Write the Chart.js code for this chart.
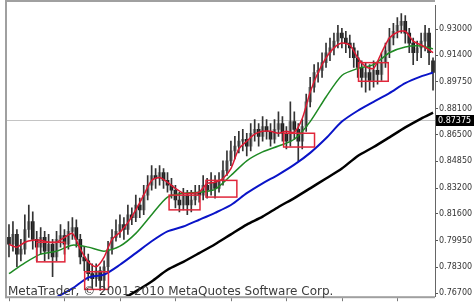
<!DOCTYPE html>
<html>
<head>
<meta charset="utf-8">
<script src="https://cdn.jsdelivr.net/npm/chart.js@4.4.1/dist/chart.umd.min.js"></script>
<style>
  html, body { margin: 0; padding: 0; background: #fff; }
</style>
</head>
<body>
<canvas id="myChart" width="474" height="302"></canvas>
<script>
// price bars (oldest first)
const barOpen = [
  0.8015, 0.7973, 0.8034, 0.7912, 0.7943, 0.8064, 0.8112, 0.8003, 0.7955, 0.8015,
  0.7930, 0.7973, 0.7894, 0.8003, 0.8027, 0.7973, 0.8052, 0.8076, 0.8003, 0.7894,
  0.7870, 0.7791, 0.7761, 0.7809, 0.7749, 0.7834, 0.7943, 0.8015, 0.8052, 0.8094,
  0.8064, 0.8155, 0.8137, 0.8215, 0.8185, 0.8276, 0.8337, 0.8397, 0.8379, 0.8415,
  0.8367, 0.8337, 0.8306, 0.8246, 0.8215, 0.8276, 0.8215, 0.8246, 0.8294, 0.8276,
  0.8337, 0.8306, 0.8355, 0.8318, 0.8367, 0.8427, 0.8488, 0.8549, 0.8579, 0.8609,
  0.8621, 0.8579, 0.8658, 0.8682, 0.8639, 0.8700, 0.8670, 0.8621, 0.8682, 0.8718,
  0.8658, 0.8609, 0.8730, 0.8682, 0.8609, 0.8700, 0.8852, 0.8942, 0.9033, 0.9046,
  0.9094, 0.9155, 0.9185, 0.9227, 0.9276, 0.9246, 0.9215, 0.9185, 0.9124, 0.9064,
  0.9003, 0.9033, 0.8985, 0.9046, 0.9021, 0.9094, 0.9167, 0.9246, 0.9288, 0.9324,
  0.9349, 0.9276, 0.9215, 0.9155, 0.9185, 0.9227, 0.9276, 0.9106,
];
const barClose = [
  0.7973, 0.8034, 0.7912, 0.7943, 0.8064, 0.8112, 0.8003, 0.7955, 0.8015, 0.7930,
  0.7973, 0.7894, 0.8003, 0.8027, 0.7973, 0.8052, 0.8076, 0.8003, 0.7894, 0.7870,
  0.7791, 0.7761, 0.7809, 0.7749, 0.7834, 0.7943, 0.8015, 0.8052, 0.8094, 0.8064,
  0.8155, 0.8137, 0.8215, 0.8185, 0.8276, 0.8337, 0.8397, 0.8379, 0.8415, 0.8367,
  0.8337, 0.8306, 0.8246, 0.8215, 0.8276, 0.8215, 0.8246, 0.8294, 0.8276, 0.8337,
  0.8306, 0.8355, 0.8318, 0.8367, 0.8427, 0.8488, 0.8549, 0.8579, 0.8609, 0.8621,
  0.8579, 0.8658, 0.8682, 0.8639, 0.8700, 0.8670, 0.8621, 0.8682, 0.8718, 0.8658,
  0.8609, 0.8730, 0.8682, 0.8609, 0.8700, 0.8852, 0.8942, 0.9033, 0.9046, 0.9094,
  0.9155, 0.9185, 0.9227, 0.9276, 0.9246, 0.9215, 0.9185, 0.9124, 0.9064, 0.9003,
  0.9033, 0.8985, 0.9046, 0.9021, 0.9094, 0.9167, 0.9246, 0.9288, 0.9324, 0.9349,
  0.9276, 0.9215, 0.9155, 0.9185, 0.9227, 0.9276, 0.9155, 0.9033,
];
const barHigh = [
  0.8094, 0.8112, 0.8064, 0.8003, 0.8155, 0.8215, 0.8173, 0.8052, 0.8076, 0.8052,
  0.8034, 0.8003, 0.8052, 0.8094, 0.8064, 0.8112, 0.8137, 0.8124, 0.8034, 0.7955,
  0.7912, 0.7852, 0.7852, 0.7834, 0.7870, 0.7991, 0.8064, 0.8124, 0.8155, 0.8137,
  0.8215, 0.8197, 0.8276, 0.8258, 0.8337, 0.8397, 0.8458, 0.8440, 0.8458, 0.8440,
  0.8415, 0.8379, 0.8337, 0.8294, 0.8318, 0.8306, 0.8306, 0.8337, 0.8337, 0.8397,
  0.8379, 0.8415, 0.8397, 0.8415, 0.8488, 0.8549, 0.8609, 0.8639, 0.8670, 0.8682,
  0.8658, 0.8718, 0.8742, 0.8718, 0.8761, 0.8742, 0.8718, 0.8742, 0.8791, 0.8761,
  0.8700, 0.8852, 0.8791, 0.8718, 0.8742, 0.8900, 0.9003, 0.9082, 0.9094, 0.9155,
  0.9215, 0.9246, 0.9276, 0.9324, 0.9306, 0.9288, 0.9264, 0.9215, 0.9167, 0.9106,
  0.9094, 0.9082, 0.9106, 0.9094, 0.9155, 0.9215, 0.9306, 0.9336, 0.9373, 0.9397,
  0.9385, 0.9306, 0.9246, 0.9227, 0.9276, 0.9324, 0.9306, 0.9124,
];
const barLow = [
  0.7894, 0.7930, 0.7834, 0.7870, 0.7912, 0.8015, 0.7943, 0.7870, 0.7912, 0.7870,
  0.7882, 0.7773, 0.7870, 0.7955, 0.7912, 0.7943, 0.8003, 0.7955, 0.7852, 0.7809,
  0.7749, 0.7700, 0.7712, 0.7688, 0.7700, 0.7809, 0.7912, 0.7991, 0.8015, 0.8003,
  0.8034, 0.8094, 0.8112, 0.8137, 0.8155, 0.8246, 0.8306, 0.8318, 0.8337, 0.8318,
  0.8294, 0.8258, 0.8197, 0.8173, 0.8185, 0.8155, 0.8173, 0.8215, 0.8233, 0.8246,
  0.8258, 0.8276, 0.8258, 0.8294, 0.8337, 0.8397, 0.8458, 0.8500, 0.8537, 0.8549,
  0.8518, 0.8549, 0.8609, 0.8579, 0.8609, 0.8621, 0.8579, 0.8597, 0.8639, 0.8609,
  0.8561, 0.8579, 0.8621, 0.8488, 0.8561, 0.8670, 0.8821, 0.8912, 0.8973, 0.9003,
  0.9064, 0.9106, 0.9142, 0.9185, 0.9185, 0.9155, 0.9124, 0.9064, 0.9003, 0.8942,
  0.8912, 0.8924, 0.8942, 0.8961, 0.8985, 0.9064, 0.9124, 0.9203, 0.9246, 0.9276,
  0.9215, 0.9155, 0.9082, 0.9106, 0.9124, 0.9167, 0.9082, 0.8924,
];

// moving averages, read at the listed bar positions
const fastIdx = [
  0, 2, 4, 6, 8, 10, 12, 14, 16, 18, 20, 22, 24, 26, 28, 30, 32, 34, 36, 38,
  40, 42, 44, 46, 48, 50, 52, 54, 56, 58, 60, 62, 64, 66, 68, 70, 72, 74, 76, 78,
  80, 82, 84, 86, 88, 90, 92, 94, 96, 98, 100, 102, 104, 106, 107,
];
const fastMa = [
  0.7973, 0.7955, 0.7985, 0.7997, 0.7997, 0.7985, 0.7985, 0.8015, 0.8040, 0.7943,
  0.7864, 0.7834, 0.7894, 0.8003, 0.8046, 0.8106, 0.8185, 0.8276, 0.8367, 0.8385,
  0.8355, 0.8318, 0.8288, 0.8288, 0.8294, 0.8349, 0.8355, 0.8379, 0.8440, 0.8561,
  0.8609, 0.8652, 0.8670, 0.8670, 0.8658, 0.8670, 0.8664, 0.8749, 0.8912, 0.9033,
  0.9124, 0.9185, 0.9215, 0.9203, 0.9124, 0.9070, 0.9058, 0.9155, 0.9246, 0.9282,
  0.9288, 0.9227, 0.9203, 0.9173, 0.9155,
];
const slowIdx = [
  0, 4, 8, 12, 16, 20, 24, 28, 32, 36, 40, 44, 48, 52, 56, 60, 64, 68, 72, 76,
  80, 84, 88, 92, 96, 100, 104, 107,
];
const midMa = [
  0.7791, 0.7858, 0.7912, 0.7930, 0.7967, 0.7955, 0.7930, 0.7961, 0.8040, 0.8155,
  0.8264, 0.8288, 0.8294, 0.8312, 0.8397, 0.8488, 0.8543, 0.8579, 0.8621, 0.8730,
  0.8882, 0.9015, 0.9058, 0.9082, 0.9155, 0.9191, 0.9197, 0.9179,
];
const longMa = [
  0.7518, 0.7561, 0.7603, 0.7646, 0.7700, 0.7767, 0.7785, 0.7846, 0.7918, 0.7991,
  0.8052, 0.8082, 0.8124, 0.8167, 0.8215, 0.8288, 0.8349, 0.8403, 0.8464, 0.8537,
  0.8627, 0.8730, 0.8797, 0.8852, 0.8906, 0.8967, 0.9009, 0.9033,
];
const trendMa = [
  0.7215, 0.7276, 0.7337, 0.7397, 0.7458, 0.7518, 0.7579, 0.7627, 0.7682, 0.7743,
  0.7815, 0.7864, 0.7918, 0.7973, 0.8034, 0.8094, 0.8143, 0.8203, 0.8258, 0.8318,
  0.8379, 0.8440, 0.8518, 0.8573, 0.8633, 0.8694, 0.8749, 0.8785,
];

// red boxes: first bar, last bar, top price, bottom price
const boxes = [
  [7, 14.1, 0.7985, 0.7864],
  [19.1, 25.1, 0.7803, 0.7694],
  [40.4, 48.2, 0.8276, 0.8185],
  [49.7, 57.5, 0.8367, 0.8264],
  [69.3, 77.1, 0.8658, 0.8573],
  [88.2, 95.7, 0.9094, 0.8979],
];

const tickValues = [0.93, 0.914, 0.8975, 0.881, 0.865, 0.8485, 0.832, 0.816, 0.7995, 0.783, 0.767];
const tickLabels = [
  "0.93000", "0.91400", "0.89750", "0.88100", "0.86500", "0.84850",
  "0.83200", "0.81600", "0.79950", "0.78300", "0.76700",
];
const lastPrice = 0.87375;
const lastPriceLabel = "0.87375";
const watermark = "MetaTrader, \u00a9 2001-2010 MetaQuotes Software Corp.";

(() => {
  "use strict";

  const labels = barOpen.map((_, i) => String(i));
  const sparse = (idx, vals) => {
    const out = labels.map(() => null);
    idx.forEach((i, k) => {
      out[i] = vals[k];
    });
    return out;
  };
  const isUp = (i) => barClose[i] >= barOpen[i];

  const lineSet = (data, color, width) => ({
    type: "line",
    data: data,
    borderColor: color,
    borderWidth: width,
    pointRadius: 0,
    spanGaps: true,
    tension: 0.25,
    order: 0,
  });

  const decor = {
    id: "decor",
    beforeDatasetsDraw(chart) {
      const { ctx, chartArea: a, scales } = chart;
      const y = Math.round(scales.y.getPixelForValue(lastPrice)) + 0.5;
      ctx.save();
      ctx.strokeStyle = "#c4c4c4";
      ctx.lineWidth = 1;
      ctx.beginPath();
      ctx.moveTo(a.left, y);
      ctx.lineTo(a.right, y);
      ctx.stroke();
      ctx.restore();
    },
    afterDatasetsDraw(chart) {
      const { ctx, scales } = chart;
      ctx.save();
      ctx.strokeStyle = "#e0263a";
      ctx.lineWidth = 1.5;
      boxes.forEach(([i0, i1, top, bottom]) => {
        const x0 = scales.x.getPixelForValue(i0);
        const x1 = scales.x.getPixelForValue(i1);
        const y0 = scales.y.getPixelForValue(top);
        const y1 = scales.y.getPixelForValue(bottom);
        ctx.strokeRect(x0, y0, x1 - x0, y1 - y0);
      });
      ctx.restore();
    },
    afterDraw(chart) {
      const { ctx, chartArea: a, scales } = chart;
      ctx.save();
      // frame
      ctx.fillStyle = "#a0a0a0";
      ctx.fillRect(a.left - 2, 0, a.right - a.left + 2, 2);
      ctx.fillRect(a.left - 2, 0, 2, a.bottom + 2);
      ctx.fillRect(a.left - 2, a.bottom, a.right - a.left + 2, 2);
      // bottom tick marks
      ctx.fillStyle = "#777";
      for (let i = 0; i < labels.length; i += 14) {
        const x = Math.round(scales.x.getPixelForValue(i));
        ctx.fillRect(x, a.bottom + 2, 1, 3);
      }
      // last price tag
      const y = Math.round(scales.y.getPixelForValue(lastPrice));
      ctx.fillStyle = "#000";
      ctx.fillRect(a.right + 1, y - 5, 40, 11);
      ctx.fillStyle = "#fff";
      ctx.font = "8px 'DejaVu Sans'";
      ctx.textBaseline = "middle";
      ctx.fillText(lastPriceLabel, a.right + 3, y + 0.5);
      // watermark
      ctx.fillStyle = "#3c3c3c";
      ctx.font = "12px 'DejaVu Sans'";
      ctx.textBaseline = "alphabetic";
      ctx.fillText(watermark, a.left + 1, a.bottom - 1);
      ctx.restore();
    },
  };

  const ctx = document.getElementById("myChart");
  // eslint-disable-next-line no-unused-vars
  const myChart = new Chart(ctx, {
    type: "bar",
    data: {
      labels: labels,
      datasets: [
        lineSet(sparse(fastIdx, fastMa), "#dc1a32", 1.5),
        lineSet(sparse(slowIdx, midMa), "#1f8a24", 1.5),
        lineSet(sparse(slowIdx, longMa), "#0a14c8", 2),
        lineSet(sparse(slowIdx, trendMa), "#000000", 2.5),
        {
          data: barLow.map((v, i) => [v, barHigh[i]]),
          backgroundColor: "#333",
          barThickness: 1,
          grouped: false,
          order: 1,
        },
        {
          data: barOpen.map((v, i) => [v, barClose[i]]),
          backgroundColor: (c) => (isUp(c.dataIndex) ? "#9a9a9a" : "#1a1a1a"),
          barThickness: 3,
          minBarLength: 1,
          grouped: false,
          order: 2,
        },
      ],
    },
    options: {
      responsive: false,
      animation: false,
      layout: {
        padding: { left: 7, top: 2, bottom: 4, right: 0 },
      },
      elements: {
        line: { capBezierPoints: false },
      },
      plugins: {
        legend: { display: false },
        tooltip: { enabled: false },
      },
      scales: {
        x: {
          display: false,
        },
        y: {
          position: "right",
          min: 0.7652,
          max: 0.9445,
          afterBuildTicks(scale) {
            scale.ticks = tickValues.map((v) => ({ value: v }));
          },
          afterFit(scale) {
            scale.width = 39;
          },
          grid: {
            drawOnChartArea: false,
            tickLength: 3,
            color: "#555",
          },
          border: { color: "#666", width: 1 },
          ticks: {
            padding: 1,
            color: "#333",
            font: { family: "DejaVu Sans", size: 8 },
            callback: (v, i) => tickLabels[i],
          },
        },
      },
    },
    plugins: [decor],
  });
})();
</script>
</body>
</html>
